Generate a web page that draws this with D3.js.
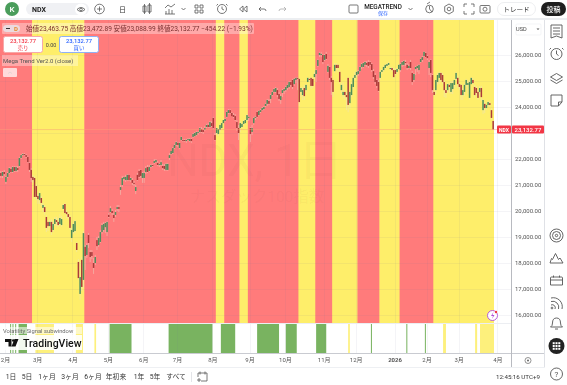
<!DOCTYPE html>
<html>
<head>
<meta charset="utf-8">
<script src="https://cdn.jsdelivr.net/npm/d3@7"></script>
<style>
  body { margin: 0; background: #fff; }
  svg { display: block; font-family: Roboto, "Noto Sans CJK JP", sans-serif; filter: blur(0.3px); }
</style>
</head>
<body>
<div id="chart"></div>
<script>
// Daily NDX candles, ten bars per line
const opens = [
  21460,21350,21500,21120,21310,21460,21620,21500,21690,21540,
  21650,21730,22040,22150,22190,22150,22080,21850,21580,21310,
  21270,20960,20580,20420,20500,20120,20150,19770,19580,19420,
  19580,19270,19500,19650,19580,19500,19460,20080,20270,19960,
  19880,19770,18960,19190,19230,18770,18040,16810,18120,17350,
  18620,18310,19080,18420,18420,18000,18000,18880,18690,18810,
  19190,19270,19380,19190,19850,19960,20000,19850,19850,20080,
  20150,20810,21000,21230,21190,21190,21390,21190,21190,21080,
  20770,21390,21540,21580,21270,21270,21500,21690,21540,21690,
  21770,21850,21880,21850,21770,21770,21730,21730,21580,21580,
  22040,22190,22230,22420,22540,22620,22420,22730,22730,22730,
  22690,22730,22690,22770,22850,22880,22920,23000,23040,23150,
  23120,23120,23230,23310,23230,23380,23580,22920,23000,22960,
  23120,23190,23380,23460,23620,23770,23880,23770,23690,23650,
  23420,23190,23190,23230,23350,23380,23500,23580,23190,23040,
  23380,23580,23810,23690,23810,23880,23920,24040,24120,24230,
  24310,24460,24580,24580,24650,24500,24270,24540,24620,24650,
  24730,24770,24960,25040,24880,25040,25120,25080,24580,24460,
  24730,24650,24960,25080,25120,25080,25150,25270,25580,26000,
  26000,26000,25810,26040,25350,25540,25120,25040,25380,25620,
  25620,25350,24650,24460,24580,24460,25120,24150,24460,24770,
  25120,25230,25270,25380,25540,25540,25620,25690,25730,25730,
  25650,25380,25230,25040,24960,25120,25350,25420,25500,25580,
  25620,25460,25500,25420,25420,25350,25460,25420,25620,25620,
  25730,25620,25500,25730,25310,25040,25460,25500,25420,25730,
  25810,25960,26080,25960,25500,25810,25230,24580,24650,24960,
  25120,25310,25230,24960,24650,24650,24850,24580,24690,24850,
  25080,25120,24880,24850,24460,24580,24850,24850,24350,24880,
  25040,24770,24730,24580,24580,24730,23880,24120,23960,24080,
  24150,23880,23463.75
];
const highs = [
  21540,21540,21580,21350,21500,21690,21690,21730,21730,21730,
  21730,22080,22190,22230,22230,22190,22120,21880,21650,21390,
  21350,21040,20650,20770,20580,20310,20230,19850,19650,19690,
  19690,19620,19770,19770,19730,19880,19810,20270,20310,20040,
  19920,19850,19350,19540,19650,18810,18150,18040,18230,19230,
  18690,18770,19150,18500,18500,18190,18310,19000,19040,19270,
  19540,19580,19580,19620,19920,20190,20080,19920,20040,20230,
  20230,21000,21350,21350,21390,21420,21420,21310,21270,21150,
  21000,21460,21610,21610,21500,21540,21730,21770,21770,21810,
  21810,22000,22000,21920,21850,21960,21810,21810,21850,21850,
  22230,22310,22460,22580,22690,22650,22650,22890,22770,22770,
  22770,22810,22810,22810,23000,23040,23080,23080,23230,23230,
  23190,23270,23350,23380,23460,23460,23620,23000,23230,23190,
  23350,23420,23540,23580,23850,23920,23920,23810,23770,23730,
  23500,23310,23460,23380,23500,23540,23730,23650,23230,23310,
  23620,23650,23850,23880,23920,24000,24040,24150,24310,24310,
  24500,24620,24730,24770,24730,24580,24500,24690,24730,24810,
  24880,25000,25000,25080,25120,25150,25150,25120,24770,24770,
  24850,24880,25150,25120,25150,25120,25350,25460,25850,26120,
  26120,26040,26040,26120,25650,25580,25190,25080,25690,25690,
  25650,25420,24920,24960,24650,24580,25150,24620,24960,25190,
  25350,25380,25420,25580,25690,25730,25770,25770,25810,25770,
  25690,25460,25310,25080,25040,25420,25460,25580,25650,25690,
  25730,25540,25540,25500,25500,25500,25650,25690,25770,25810,
  25810,25690,25650,25810,25380,25310,25580,25620,25650,25890,
  25960,26150,26120,26000,25810,25850,25270,24730,25080,25310,
  25350,25350,25310,25040,24730,24920,24920,25000,25000,25080,
  25350,25190,24960,24880,24730,24880,25080,25000,25040,25150,
  25120,24850,24810,24650,24810,24810,24310,24190,24080,24230,
  24230,23960,23472.89
];
const lows = [
  21270,21270,21350,21040,21270,21420,21460,21460,21500,21500,
  21500,21690,22000,22120,22120,22040,21850,21500,21120,21080,
  20460,20420,20270,20270,20190,19960,19850,19190,19230,19350,
  19080,19190,19420,19420,19390,19420,19390,20040,19880,19730,
  19690,19270,18810,19120,19150,18420,17350,16580,16920,17040,
  17730,18190,18580,18040,18150,17580,17920,18500,18620,18770,
  19120,19190,19150,19040,19730,19920,19850,19580,19770,20000,
  19960,20620,20920,21150,21120,21150,21150,21120,21000,20960,
  20650,21150,21270,21270,21080,21080,21420,21460,21500,21650,
  21690,21810,21850,21730,21690,21730,21580,21540,21540,21540,
  21960,22150,22190,22380,22500,22460,22380,22690,22650,22650,
  22620,22690,22650,22620,22810,22850,22880,22920,23000,23000,
  22960,23080,23190,23190,23190,23230,23150,22690,22920,22880,
  23040,23150,23350,23420,23580,23730,23730,23650,23580,23460,
  23080,22730,23040,23190,23310,23380,23460,23460,22650,22920,
  23310,23500,23580,23650,23770,23850,23880,24000,24040,24080,
  24150,24420,24540,24540,24380,24230,24120,24380,24500,24580,
  24650,24690,24770,24690,24810,24920,24650,24040,24380,24270,
  24270,24580,25000,24960,24690,24730,25080,24960,25540,25920,
  25920,25650,25770,25810,25310,25040,24460,24380,25310,25420,
  25350,24880,24540,24350,24270,23880,23800,23920,24380,24650,
  25040,25150,25190,25350,25460,25500,25580,25540,25500,25580,
  25350,25080,24880,24730,24580,25040,25270,25380,25460,25540,
  25580,25420,25350,25080,25230,25270,25420,25350,25540,25580,
  25580,25420,25460,25420,24850,24960,25230,25350,25270,25690,
  25730,25920,25880,25810,25230,25150,24540,24420,24500,24850,
  24880,24960,24880,24380,24350,24580,24530,24500,24500,24730,
  25040,24730,24650,24270,24270,24420,24770,24500,24270,24880,
  24850,24350,24420,24270,24420,24230,23730,23770,23880,24000,
  24000,23500,23088.99
];
const closes = [
  21350,21500,21420,21310,21460,21650,21500,21690,21540,21690,
  21580,22040,22150,22190,22150,22080,21880,21580,21270,21190,
  20540,20540,20460,20690,20310,20230,19960,19350,19420,19580,
  19190,19500,19690,19580,19460,19730,19690,20230,19920,19880,
  19770,19350,19270,19500,19610,18500,17420,17460,17080,19150,
  18270,18690,18770,18230,18270,17810,18230,18650,18960,19190,
  19460,19500,19540,19580,19770,20110,19920,19730,19960,20150,
  20080,20920,21270,21310,21310,21390,21190,21270,21080,21040,
  20920,21190,21310,21350,21460,21460,21650,21500,21690,21770,
  21730,21920,21960,21770,21810,21880,21650,21620,21810,21810,
  22150,22310,22420,22540,22650,22540,22620,22850,22690,22690,
  22730,22770,22770,22690,22960,23000,23040,23040,23190,23040,
  23040,23190,23310,23230,23420,23270,23190,22730,23190,23150,
  23310,23380,23500,23540,23810,23880,23770,23650,23620,23500,
  23190,23000,23380,23350,23460,23500,23690,23620,22960,23190,
  23580,23620,23620,23850,23880,23960,24000,24120,24270,24120,
  24460,24580,24690,24730,24460,24310,24420,24650,24690,24770,
  24850,24960,24850,24770,25080,25120,25080,24190,24730,24650,
  24420,24850,25120,25040,24810,24810,25270,25420,25810,26080,
  26040,25730,26000,25850,25580,25120,24960,24580,25620,25500,
  25500,24960,24850,24580,24460,24380,24080,24580,24880,25120,
  25230,25350,25380,25540,25650,25690,25730,25620,25580,25620,
  25420,25150,24960,24810,24620,25350,25420,25540,25620,25650,
  25690,25500,25420,25150,25270,25460,25620,25650,25730,25770,
  25690,25500,25580,25500,24960,25270,25540,25580,25620,25850,
  25920,26120,25920,25880,25730,25310,24650,24460,25040,25230,
  25310,25040,24960,24650,24540,24880,24770,24920,24920,25040,
  25310,24880,24770,24460,24650,24850,25040,24920,24960,25120,
  24920,24460,24540,24350,24730,24380,24270,23960,24080,24190,
  24080,23580,23132.77
];

// Background signal bands, as [first bar, last bar] of the main pane
const yellowBands = [[19,50],[128,133],[142,147],[177,187],[197,212],[225,237],[257,293]];
// Volatility subwindow bands
const subGreen = [[6,6.6],[7.4,8],[9,9.6],[11,16],[65,78],[100,126],[131,139.5],[152.5,165.5],[169.5,176],[187.5,193.5],[220,220.6],[241,241.6],[252,252.6]];
const subYellow = [[21,32],[45,49.2],[56,57],[206.5,207.5],[262.8,264.5],[281.8,283],[284.7,293]];

// Axis ticks
const monthBars = [3,22,43,64,85,105,126,148,169,192,211,234,253,272,295];
const monthLabels = ['2月','3月','4月','5月','6月','7月','8月','9月','10月','11月','12月','2026','2月','3月','4月'];
const priceTicks = [16000,17000,18000,19000,20000,21000,22000,24000,25000,26000];
const rangeLabels = ['1日','5日','1ヶ月','3ヶ月','6ヶ月','年初来','1年','5年','すべて'];
const rangeX = [11,27,47,70,93,116,139,155,176];

const width = 567, height = 385;
const paneRight = 511, axisRight = 545;
const mainTop = 20, mainBottom = 323, subBottom = 353;

const svg = d3.select('#chart').append('svg')
    .attr('width', width)
    .attr('height', height);

const x = d3.scaleLinear().domain([0, 293]).range([0, 494]);
const y = d3.scaleLinear().domain([16000, 26000]).range([315, 55]);

const RED = '#ff7b7b', YELLOW = '#feee6a', GREEN = '#79b360';
const UP = '#4f8d5c', DOWN = '#aa3a3a';

function label(parent, px, py, str, size, fill, anchor, weight) {
    return parent.append('text')
        .attr('x', px).attr('y', py)
        .attr('text-anchor', anchor || 'start')
        .attr('font-size', size)
        .attr('font-weight', weight || 400)
        .attr('fill', fill)
        .text(str);
}

// Main pane background
const main = svg.append('g');
main.append('rect')
    .attr('x', x(0)).attr('y', mainTop)
    .attr('width', x(293) - x(0)).attr('height', mainBottom - mainTop)
    .attr('fill', RED);
main.selectAll('.yband').data(yellowBands).enter().append('rect')
    .attr('x', d => x(d[0])).attr('y', mainTop)
    .attr('width', d => x(d[1]) - x(d[0])).attr('height', mainBottom - mainTop)
    .attr('fill', YELLOW);

// Subwindow background
const sub = svg.append('g');
sub.selectAll('.sg').data(subGreen).enter().append('rect')
    .attr('x', d => x(d[0])).attr('y', mainBottom)
    .attr('width', d => x(d[1]) - x(d[0])).attr('height', subBottom - mainBottom)
    .attr('fill', GREEN);
sub.selectAll('.sy').data(subYellow).enter().append('rect')
    .attr('x', d => x(d[0])).attr('y', mainBottom)
    .attr('width', d => x(d[1]) - x(d[0])).attr('height', subBottom - mainBottom)
    .attr('fill', '#fdf07c');

// Grid
const grid = svg.append('g').attr('stroke', 'rgba(110,110,150,0.08)').attr('stroke-width', 1);
grid.selectAll('.gh').data(priceTicks.concat([23000])).enter().append('line')
    .attr('x1', 0).attr('x2', paneRight)
    .attr('y1', d => Math.round(y(d)) + 0.5).attr('y2', d => Math.round(y(d)) + 0.5);
grid.selectAll('.gv').data(monthBars).enter().append('line')
    .attr('x1', d => Math.round(x(d)) + 0.5).attr('x2', d => Math.round(x(d)) + 0.5)
    .attr('y1', mainTop).attr('y2', subBottom);

// Watermark
label(svg, 255, 176, 'NDX, 1日', 44, 'rgba(120,40,40,0.055)', 'middle', 400);
label(svg, 257, 202, 'ナスダック100指数', 15.5, 'rgba(120,40,40,0.055)', 'middle', 400);

// Candles
const bars = d3.range(closes.length);
const candles = svg.append('g');
candles.selectAll('.wick').data(bars).enter().append('line')
    .attr('x1', i => x(i + 0.5)).attr('x2', i => x(i + 0.5))
    .attr('y1', i => y(highs[i])).attr('y2', i => y(lows[i]))
    .attr('stroke', 'rgba(235,225,205,0.55)')
    .attr('stroke-width', 0.8);
candles.selectAll('.body').data(bars).enter().append('rect')
    .attr('x', i => x(i + 0.5) - 0.75)
    .attr('y', i => y(Math.max(opens[i], closes[i])))
    .attr('width', 1.5)
    .attr('height', i => Math.max(1, Math.abs(y(opens[i]) - y(closes[i]))))
    .attr('fill', i => closes[i] >= opens[i] ? UP : DOWN);

// Last price line
svg.append('line')
    .attr('x1', 0).attr('x2', paneRight)
    .attr('y1', y(23132.77)).attr('y2', y(23132.77))
    .attr('stroke', 'rgba(250,160,120,0.6)').attr('stroke-width', 0.8);

// Price axis
svg.append('rect').attr('x', paneRight).attr('y', mainTop).attr('width', width - paneRight).attr('height', subBottom - mainTop + 15).attr('fill', '#fff');
const yAxis = d3.axisRight(y).tickValues(priceTicks).tickFormat(d3.format(',.2f')).tickSize(0);
const yG = svg.append('g').attr('transform', `translate(${paneRight + 4},0)`).call(yAxis);
yG.select('.domain').remove();
yG.selectAll('text').attr('font-size', 6).attr('font-family', 'Roboto').attr('fill', '#555').attr('x', 0);

// Time axis
const xAxis = d3.axisBottom(x).tickValues(monthBars).tickFormat((d, i) => monthLabels[i]).tickSize(0);
const xG = svg.append('g').attr('transform', `translate(0,${subBottom + 2})`).call(xAxis);
xG.select('.domain').remove();
xG.selectAll('text')
    .attr('font-size', 6).attr('font-family', 'Roboto, "Noto Sans CJK JP"').attr('fill', '#555')
    .attr('font-weight', (d, i) => monthLabels[i] === '2026' ? 700 : 400);

// Pane borders
const borders = svg.append('g').attr('stroke', '#c9cbd1').attr('stroke-width', 1);
borders.append('line').attr('x1', 0).attr('x2', axisRight).attr('y1', subBottom + 0.5).attr('y2', subBottom + 0.5);
borders.append('line').attr('x1', 0).attr('x2', paneRight).attr('y1', mainBottom + 0.5).attr('y2', mainBottom + 0.5).attr('stroke', '#eceef2');
borders.append('line').attr('x1', paneRight + 0.5).attr('x2', paneRight + 0.5).attr('y1', mainTop).attr('y2', 367).attr('stroke', '#b8bac0');
borders.append('line').attr('x1', axisRight - 0.5).attr('x2', axisRight - 0.5).attr('y1', 20).attr('y2', 367).attr('stroke', '#dfe1e6');
borders.append('line').attr('x1', 0).attr('x2', 545).attr('y1', 367.5).attr('y2', 367.5).attr('stroke', '#eef0f3');

// Last price tags
const tagY = y(23132.77);
svg.append('rect').attr('x', 497).attr('y', tagY - 4).attr('width', 14).attr('height', 8).attr('rx', 1).attr('fill', '#f23645');
label(svg, 504, tagY + 2, 'NDX', 5, '#fff', 'middle', 700);
svg.append('rect').attr('x', paneRight + 1).attr('y', tagY - 4).attr('width', 32).attr('height', 8).attr('rx', 1).attr('fill', '#f23645');
label(svg, 528, tagY + 2.2, '23,132.77', 6, '#fff', 'middle', 500);

// Top toolbar
svg.append('rect').attr('width', width).attr('height', 18).attr('fill', '#fff');
svg.append('rect').attr('y', 18).attr('width', width).attr('height', 2).attr('fill', '#eceef1');
svg.append('circle').attr('cx', 12).attr('cy', 9).attr('r', 7).attr('fill', '#4a9d5b');
label(svg, 12, 12, 'K', 8, '#fff', 'middle', 500);
svg.append('rect').attr('x', 26).attr('y', 3).attr('width', 63).attr('height', 12).attr('rx', 6).attr('fill', '#f0f1f4');
label(svg, 32, 12, 'NDX', 7, '#222', 'start', 700);
svg.append('circle').attr('cx', 81).attr('cy', 9.5).attr('r', 6).attr('fill', '#fff');

const icons = svg.append('g').attr('fill', 'none').attr('stroke', '#555').attr('stroke-width', 0.8);
icons.append('path').attr('d', 'M77 9.5q4 -4 8 0q-4 4 -8 0z');
icons.append('circle').attr('cx', 81).attr('cy', 9.5).attr('r', 1.3);
icons.append('circle').attr('cx', 99.5).attr('cy', 9).attr('r', 4.8);
icons.append('path').attr('d', 'M97 9h5M99.5 6.5v5');
label(svg, 122.5, 12, '日', 7, '#333', 'middle');
icons.append('path').attr('d', 'M143 6h3v6h-3zM148 5h3v7h-3zM144.5 4v10M149.5 3v11');
icons.append('path').attr('d', 'M165 14h10M166 14v-3M169 14v-5M172 14v-4M165 8l3 -3l3 2l4 -3');
icons.append('path').attr('d', 'M181.5 8l2 2l2 -2');
icons.append('path').attr('d', 'M195 5h3v3h-3zM200 5h3v3h-3zM195 10h3v3h-3zM200 10h3v3h-3z');
icons.append('circle').attr('cx', 222).attr('cy', 9).attr('r', 4.5);
icons.append('path').attr('d', 'M222 6.5v2.5l2 1M218 4l-1.5 1.5M226 4l1.5 1.5');
icons.append('path').attr('d', 'M243 6l-3.5 3l3.5 3zM247 6l-3.5 3l3.5 3z');
icons.append('path').attr('d', 'M261 7l-2 2l2 2M259 9h5q2 0 2 2');
icons.append('path').attr('d', 'M284 7l2 2l-2 2M286 9h-5q-2 0 -2 2').attr('stroke', '#aaa');
icons.append('rect').attr('x', 349).attr('y', 5).attr('width', 9).attr('height', 8).attr('rx', 1);
label(svg, 383, 8.5, 'MEGATREND', 6.4, '#222', 'middle', 500);
label(svg, 383, 14.5, '保存', 5, '#2962ff', 'middle');
icons.append('path').attr('d', 'M408.5 8l2 2l2 -2');
icons.append('circle').attr('cx', 429.5).attr('cy', 9).attr('r', 3.8);
icons.append('path').attr('d', 'M429.5 6v3l2.5 3M427 4l3 -2');
icons.append('path').attr('d', 'M449 4l4.3 2.5v5l-4.3 2.5l-4.3 -2.5v-5z');
icons.append('circle').attr('cx', 449).attr('cy', 9).attr('r', 1.8);
icons.append('path').attr('d', 'M464 7v-3h3M471 4h3v3M474 11v3h-3M467 14h-3v-3');
icons.append('rect').attr('x', 480).attr('y', 5.5).attr('width', 10).attr('height', 7.5).attr('rx', 1);
icons.append('circle').attr('cx', 485).attr('cy', 9.2).attr('r', 2);
svg.append('rect').attr('x', 497.5).attr('y', 2.5).attr('width', 38).attr('height', 13).attr('rx', 6.5).attr('fill', '#fff').attr('stroke', '#e5e6ea').attr('stroke-width', 0.7);
label(svg, 516.5, 12, 'トレード', 6.6, '#333', 'middle');
svg.append('rect').attr('x', 541).attr('y', 2).attr('width', 25).attr('height', 14).attr('rx', 7).attr('fill', '#1e1e1e');
label(svg, 553.5, 12, '投稿', 7, '#fff', 'middle', 500);

// Legend on the main pane
svg.append('rect').attr('x', 2).attr('y', 23).attr('width', 252).attr('height', 11).attr('rx', 1).attr('fill', 'rgba(255,255,255,0.35)');
svg.append('rect').attr('x', 3).attr('y', 25).attr('width', 17).attr('height', 7).attr('rx', 3.5).attr('fill', 'rgba(230,230,235,0.8)');
svg.append('rect').attr('x', 6).attr('y', 28).attr('width', 4).attr('height', 1).attr('fill', '#333');
label(svg, 14, 31, 'D', 6, '#e8892b', 'start', 700);
label(svg, 26, 31, '始値23,463.75  高値23,472.89  安値23,088.99  終値23,132.77  −454.22 (−1.93%)', 6.6, '#7a3030');

svg.append('rect').attr('x', 3.5).attr('y', 36.5).attr('width', 39).attr('height', 16).attr('rx', 2).attr('fill', '#fff').attr('stroke', '#f7a9a9');
label(svg, 23, 43, '23,132.77', 5.8, '#f23645', 'middle', 500);
label(svg, 23, 50, '売り', 5.4, '#f23645', 'middle');
label(svg, 51, 46.5, '0.00', 5.4, '#444', 'middle');
svg.append('rect').attr('x', 59.5).attr('y', 36.5).attr('width', 39).attr('height', 16).attr('rx', 2).attr('fill', '#fff').attr('stroke', '#8fb0f5');
label(svg, 79, 43, '23,132.77', 5.8, '#2962ff', 'middle', 500);
label(svg, 79, 50, '買い', 5.4, '#2962ff', 'middle');

svg.append('rect').attr('x', 2).attr('y', 55).attr('width', 76).attr('height', 11).attr('fill', 'rgba(255,255,255,0.35)');
label(svg, 3, 63, 'Mega Trend Ver2.0 (close)', 6, '#555');
svg.append('rect').attr('x', 3).attr('y', 68).attr('width', 14).attr('height', 9).attr('rx', 1).attr('fill', 'rgba(255,235,235,0.85)');
icons.append('path').attr('d', 'M8 73.5l2 -1.5l2 1.5').attr('stroke', '#333');

// Subwindow title and logo
svg.append('rect').attr('x', 3).attr('y', 327).attr('width', 79).attr('height', 7).attr('fill', 'rgba(255,255,255,0.55)');
label(svg, 3, 333, 'Volatility Signal subwindow', 5.8, '#6b6b6b');
svg.append('rect').attr('x', 3).attr('y', 335).attr('width', 79).attr('height', 15).attr('fill', 'rgba(255,255,255,0.9)');
svg.append('path').attr('d', 'M5 339h6.5v7.5h-3v-4.5h-3.5zM14.5 339h4l-3 7.5h-4z').attr('fill', '#111');
svg.append('circle').attr('cx', 13.2).attr('cy', 340.5).attr('r', 1.2).attr('fill', '#111');
label(svg, 23, 347, 'TradingView', 10.5, '#111', 'start', 500);

// Purple alert badge
svg.append('circle').attr('cx', 492.5).attr('cy', 315.5).attr('r', 5).attr('fill', '#fff').attr('stroke', '#b14fd8').attr('stroke-width', 0.9);
svg.append('path').attr('d', 'M493.5 312l-2.5 4h2l-1 3l2.5 -4h-2z').attr('fill', '#b14fd8');
svg.append('circle').attr('cx', 496).attr('cy', 312).attr('r', 1.2).attr('fill', '#f23645');

// Right sidebar
svg.append('rect').attr('x', paneRight + 5).attr('y', 24).attr('width', 25).attr('height', 11).attr('rx', 1).attr('fill', '#fff').attr('stroke', '#eceef1').attr('stroke-width', 0.6);
label(svg, 516, 31, 'USD', 5.6, '#444');
svg.append('path').attr('d', 'M536.5 28.5h3l-1.5 1.5z').attr('fill', '#555');
const side = svg.append('g').attr('fill', 'none').attr('stroke', '#555').attr('stroke-width', 0.9);
side.append('path').attr('d', 'M551 25h11v13l-5.5 -2l-5.5 2zM553 28h7M553 31h7M553 34h7');
side.append('circle').attr('cx', 556.5).attr('cy', 54).attr('r', 5.5);
side.append('path').attr('d', 'M556.5 50.5v3.5l2 1.5M551 48l-1.5 1.5M562 48l1.5 1.5');
side.append('path').attr('d', 'M550.5 77l6 -3.5l6 3.5l-6 3.5zM550.5 80l6 3.5l6 -3.5');
side.append('path').attr('d', 'M551 95h11v7l-3.5 4h-7.5zM558.5 106v-4h3.5');
side.append('circle').attr('cx', 556.5).attr('cy', 235.5).attr('r', 6.5);
side.append('circle').attr('cx', 556.5).attr('cy', 235.5).attr('r', 4);
side.append('circle').attr('cx', 556.5).attr('cy', 235.5).attr('r', 1.2);
side.append('path').attr('d', 'M550 263h13l-3 -5l-1.5 1.5l-3 -6l-3 6l-1 -1z');
side.append('path').attr('d', 'M551.5 277h10a1 1 0 0 1 1 1v7h-12v-7a1 1 0 0 1 1 -1zM550.5 280h12M553.5 275.5v2M559.5 275.5v2');
side.append('path').attr('d', 'M551 298a9 9 0 0 1 11 11M551 301.5a6 6 0 0 1 7.5 7.5M551 305a3 3 0 0 1 4 4');
side.append('circle').attr('cx', 552).attr('cy', 308).attr('r', 0.9);
side.append('path').attr('d', 'M550.5 327q2 -1 2 -4q0 -5 4 -5q4 0 4 5q0 3 2 4zM555 329h3');
svg.append('circle').attr('cx', 556.5).attr('cy', 346).attr('r', 8).attr('fill', '#222');
svg.selectAll('.dot').data(d3.cross([-2.8, 0, 2.8], [-2.8, 0, 2.8])).enter().append('rect')
    .attr('x', d => 555.5 + d[0]).attr('y', d => 345 + d[1])
    .attr('width', 2).attr('height', 2).attr('fill', '#fff');
side.append('circle').attr('cx', 556.5).attr('cy', 374).attr('r', 6);
label(svg, 556.5, 377, '?', 8, '#555', 'middle');

// Bottom range bar
const range = svg.append('g');
rangeLabels.forEach((t, i) => label(range, rangeX[i], 379, t, 6.8, '#333', 'middle'));
range.append('line').attr('x1', 191.5).attr('x2', 191.5).attr('y1', 372).attr('y2', 382).attr('stroke', '#e3e4e8');
icons.append('path').attr('d', 'M198 373h9v8h-6M198 373v4M200 371.5v3M205 371.5v3M197 380h4M199 378v4');
label(svg, 540, 379, '12:45:16 UTC+9', 6.2, '#333', 'end');
svg.append('circle').attr('cx', 528).attr('cy', 360.5).attr('r', 3).attr('fill', 'none').attr('stroke', '#666').attr('stroke-width', 0.7);
svg.append('circle').attr('cx', 528).attr('cy', 360.5).attr('r', 1).attr('fill', '#666');
</script>
</body>
</html>
